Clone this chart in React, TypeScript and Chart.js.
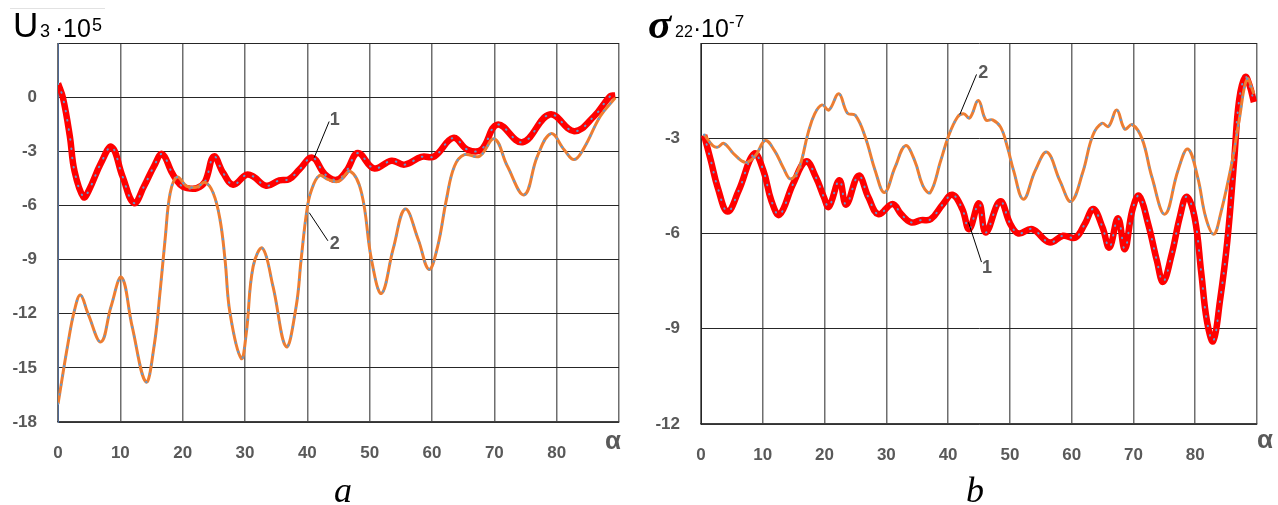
import React, { useEffect, useRef } from "react";
import { Chart, registerables } from "chart.js";

Chart.register(...registerables);

// ---------- Data (a): U3·10^5 ----------
const ALPHA_A1 = [0, 0.8, 1.9, 2.65, 4.1, 5.0, 6.9, 8.6, 10.35, 12.2, 13.8, 15.4, 16.7, 18.3, 19.6, 20.7, 22.3, 23.6, 25.0, 26.5, 28.1, 30.2, 31.3, 33.4, 35.5, 37.1, 38.7, 40.8, 42.8, 44.7, 46.3, 48.1, 50.7, 53.5, 55.6, 58.3, 60.4, 63.4, 65.7, 67.9, 70.5, 74.5, 78.9, 82.8, 86.0, 88.6, 89.4];
const U3_CURVE1 = [0.76, -0.04, -2.17, -4.1, -5.54, -5.13, -3.65, -2.76, -4.39, -5.87, -4.94, -3.83, -3.15, -4.2, -4.85, -5.04, -5.04, -4.67, -3.28, -4.2, -4.85, -4.3, -4.39, -4.91, -4.61, -4.54, -4.02, -3.35, -4.26, -4.58, -4.07, -3.1, -3.95, -3.52, -3.74, -3.31, -3.28, -2.26, -2.91, -2.91, -1.52, -2.5, -0.96, -1.89, -1.06, 0.06, 0.09];

const ALPHA_A2 = [0, 1.6, 2.65, 3.6, 4.8, 6.9, 8.5, 10.2, 11.9, 14.1, 15.4, 16.4, 17.2, 18.0, 19.1, 20.7, 22.3, 23.6, 24.9, 26.0, 26.8, 27.6, 29.4, 30.2, 31.3, 32.8, 34.5, 36.6, 38.2, 39.0, 39.9, 40.6, 41.9, 43.4, 45.0, 46.9, 48.7, 50.3, 51.9, 53.8, 55.7, 57.8, 59.5, 60.9, 62.3, 63.6, 65.2, 67.6, 70.0, 72.1, 74.8, 76.9, 79.1, 81.2, 82.8, 84.4, 87.0, 89.4];
const U3_CURVE2 = [-17.0, -13.65, -11.8, -10.96, -11.98, -13.56, -11.61, -9.98, -12.72, -15.78, -13.83, -10.69, -7.81, -5.31, -4.43, -4.94, -4.98, -4.72, -5.31, -6.8, -9.02, -11.98, -14.48, -13.09, -9.39, -8.37, -10.5, -13.83, -11.61, -9.02, -6.33, -5.22, -4.35, -4.57, -4.67, -4.11, -5.31, -9.02, -10.87, -8.37, -6.2, -7.9, -9.54, -8.28, -5.69, -3.83, -3.19, -3.28, -2.31, -3.83, -5.41, -3.28, -2.02, -2.91, -3.46, -2.81, -1.06, -0.04];

// ---------- Data (b): sigma22·10^-7 ----------
const ALPHA_B1 = [0.5, 1.6, 2.7, 4.3, 6.1, 8.6, 10.1, 11.4, 12.7, 14.9, 17.0, 18.6, 19.9, 20.7, 22.4, 23.5, 25.5, 27.1, 28.7, 31.0, 32.4, 34.0, 35.6, 37.2, 39.1, 40.7, 42.3, 43.4, 45.0, 46.1, 48.4, 50.1, 51.4, 53.6, 56.4, 58.6, 60.6, 62.1, 63.5, 65.0, 66.1, 67.5, 68.6, 69.8, 70.9, 72.4, 73.8, 74.8, 76.2, 77.5, 78.6, 79.9, 81.0, 81.9, 82.9, 84.0, 85.2, 86.3, 87.1, 88.1, 88.8, 89.5];
const S22_CURVE1 = [-2.9, -3.71, -4.55, -5.31, -4.65, -3.49, -4.02, -4.97, -5.41, -4.44, -3.73, -4.23, -4.86, -5.16, -4.32, -5.09, -4.18, -4.86, -5.39, -5.07, -5.39, -5.65, -5.58, -5.55, -5.09, -4.78, -5.23, -5.86, -5.05, -5.97, -4.99, -5.71, -6.0, -5.86, -6.28, -6.07, -6.13, -5.71, -5.23, -5.81, -6.44, -5.52, -6.49, -5.28, -4.81, -5.71, -6.86, -7.52, -6.65, -5.49, -4.84, -5.49, -7.28, -8.76, -9.39, -8.13, -6.23, -3.71, -1.81, -1.07, -1.34, -1.86];

const ALPHA_B2 = [0.5, 1.9, 2.7, 3.7, 5.3, 7.2, 8.8, 10.4, 11.9, 13.3, 14.5, 15.9, 17.3, 18.4, 19.6, 20.7, 22.3, 23.7, 25.0, 26.6, 28.2, 29.7, 31.4, 33.1, 34.6, 35.9, 37.1, 38.8, 40.0, 41.5, 42.5, 43.5, 44.9, 46.1, 47.2, 48.5, 49.6, 50.6, 52.2, 54.1, 56.0, 58.1, 59.9, 61.8, 63.4, 64.9, 65.96, 67.3, 68.6, 69.8, 71.4, 73.0, 75.1, 77.2, 78.8, 80.4, 81.7, 83.0, 84.1, 86.0, 87.1, 88.4, 89.5];
const S22_CURVE2 = [-2.88, -3.23, -3.28, -3.16, -3.49, -3.76, -3.55, -3.07, -3.39, -3.92, -4.28, -3.92, -2.86, -2.23, -1.95, -2.11, -1.6, -2.21, -2.28, -2.97, -4.02, -4.71, -3.92, -3.23, -3.71, -4.49, -4.71, -3.71, -2.97, -2.34, -2.23, -2.36, -1.81, -2.42, -2.42, -2.65, -3.28, -4.02, -4.92, -4.02, -3.44, -4.34, -4.99, -4.07, -2.92, -2.53, -2.63, -2.11, -2.71, -2.57, -3.02, -4.23, -5.39, -4.02, -3.34, -4.23, -5.49, -6.02, -5.39, -3.71, -2.44, -1.13, -1.6];

// axis ticks
const X_TICKS = [0, 10, 20, 30, 40, 50, 60, 70, 80, 90];
const Y_TICKS_A = [-18, -15, -12, -9, -6, -3, 0, 3];
const Y_TICKS_B = [-12, -9, -6, -3, 0];

// leader labels, in data units: [labelX, labelY, fromX, fromY, toX, toY]
const LEADERS_A = [
  { label: "1", pos: [44.4, -1.29, 43.5, -1.35, 41.1, -3.35] },
  { label: "2", pos: [44.4, -8.13, 43.3, -7.96, 40.3, -6.4] },
];
const LEADERS_B = [
  { label: "2", pos: [45.7, -0.95, 44.6, -0.99, 41.9, -2.25] },
  { label: "1", pos: [46.3, -7.1, 45.4, -6.9, 43.3, -5.65] },
];

const zip = (xs: number[], ys: number[]) => xs.map((x, i) => ({ x, y: ys[i] }));

const TICK_COLOR = "#595959";
const TICK_FONT = { family: "'Liberation Sans', Arial, sans-serif", size: 17, weight: "bold" as const };

function makeDatasets(s1: any[], s2: any[]) {
  const common = { pointRadius: 0, fill: false, tension: 0.4, borderJoinStyle: "round" as const };
  return [
    { ...common, data: s2, borderColor: "#5B9BD5", borderWidth: 2, borderDash: [0.5, 9], borderCapStyle: "round" as const, order: 0 },
    { ...common, data: s2, borderColor: "#ED7D31", borderWidth: 3, order: 1 },
    { ...common, data: s1, borderColor: "#5B9BD5", borderWidth: 2, borderDash: [0.5, 9], borderCapStyle: "round" as const, order: 2 },
    { ...common, data: s1, borderColor: "#FF0000", borderWidth: 6.5, order: 3 },
  ];
}

function leaderPlugin(items: { label: string; pos: number[] }[]) {
  return {
    id: "leaders",
    afterDatasetsDraw(chart: any) {
      const { ctx, scales } = chart;
      const sx = scales.x;
      const sy = scales.y;
      ctx.save();
      items.forEach((it) => {
        const [lx, ly, fx, fy, tx, ty] = it.pos;
        ctx.strokeStyle = "#000";
        ctx.lineWidth = 1;
        ctx.beginPath();
        ctx.moveTo(sx.getPixelForValue(fx), sy.getPixelForValue(fy));
        ctx.lineTo(sx.getPixelForValue(tx), sy.getPixelForValue(ty));
        ctx.stroke();
        ctx.font = "bold 18px 'Liberation Sans', Arial, sans-serif";
        ctx.fillStyle = TICK_COLOR;
        ctx.textAlign = "center";
        ctx.textBaseline = "middle";
        ctx.fillText(it.label, sx.getPixelForValue(lx), sy.getPixelForValue(ly));
      });
      ctx.restore();
    },
  };
}

function makeConfig(
  s1: any[], s2: any[], yTicks: number[], yAxisWidth: number, xAxisHeight: number,
  padRight: number, leftBorderColor: string, leaders: any[]
): any {
  const yMin = Math.min(...yTicks);
  const yMax = Math.max(...yTicks);
  return {
    type: "line",
    data: { datasets: makeDatasets(s1, s2) },
    plugins: [leaderPlugin(leaders)],
    options: {
      animation: false,
      responsive: false,
      devicePixelRatio: 1,
      events: [],
      layout: { padding: { top: 43, right: padRight, left: 0, bottom: 0 } },
      plugins: { legend: { display: false }, tooltip: { enabled: false }, title: { display: false } },
      scales: {
        x: {
          type: "linear",
          min: X_TICKS[0],
          max: X_TICKS[X_TICKS.length - 1],
          afterFit: (s: any) => { s.height = xAxisHeight; },
          afterBuildTicks: (s: any) => { s.ticks = X_TICKS.map((v) => ({ value: v })); },
          ticks: {
            autoSkip: false, maxRotation: 0, padding: 21, color: TICK_COLOR, font: TICK_FONT,
            callback: (v: number) => (v === X_TICKS[X_TICKS.length - 1] ? "" : String(v)),
          },
          grid: { color: "#6e6e6e", lineWidth: 1.5, drawTicks: false },
          border: { color: "#404040", width: 1.5 },
        },
        y: {
          type: "linear",
          min: yMin,
          max: yMax,
          afterFit: (s: any) => { s.width = yAxisWidth; },
          afterBuildTicks: (s: any) => { s.ticks = yTicks.map((v) => ({ value: v })); },
          ticks: {
            autoSkip: false, padding: 21, color: TICK_COLOR, font: TICK_FONT,
            callback: (v: number) => (v === yMax ? "" : String(v)),
          },
          grid: { color: "#262626", lineWidth: 1, drawTicks: false },
          border: { color: leftBorderColor, width: 1 },
        },
      },
    },
  };
}

const abs = (o: any): React.CSSProperties => ({ position: "absolute", whiteSpace: "nowrap", lineHeight: 1, margin: 0, ...o });
const SANS = "'Liberation Sans', Arial, sans-serif";
const SERIF = "'Liberation Serif', 'Times New Roman', serif";

export default function App() {
  const refA = useRef<HTMLCanvasElement | null>(null);
  const refB = useRef<HTMLCanvasElement | null>(null);

  useEffect(() => {
    const chartA = new Chart(
      refA.current as HTMLCanvasElement,
      makeConfig(zip(ALPHA_A1, U3_CURVE1), zip(ALPHA_A2, U3_CURVE2), Y_TICKS_A, 58, 83, 21, "#4d6690", LEADERS_A)
    );
    const chartB = new Chart(
      refB.current as HTMLCanvasElement,
      makeConfig(zip(ALPHA_B1, S22_CURVE1), zip(ALPHA_B2, S22_CURVE2), Y_TICKS_B, 61, 81, 16, "#262626", LEADERS_B)
    );
    return () => {
      chartA.destroy();
      chartB.destroy();
    };
  }, []);

  return (
    <div style={{ position: "absolute", left: 0, top: 0, width: 1278, height: 505, background: "#fff", overflow: "hidden" }}>
      <canvas ref={refA} width={640} height={505} style={{ position: "absolute", left: 0, top: 0 }} />
      <canvas ref={refB} width={638} height={505} style={{ position: "absolute", left: 640, top: 0 }} />

      {/* faint rule above left title */}
      <div style={abs({ left: 10, top: 8, width: 95, height: 1, background: "#e2e2e2" })} />

      {/* left title: U3·10^5 */}
      <span style={abs({ left: 13, top: 7, fontFamily: SANS, fontSize: 35, color: "#000" })}>U</span>
      <span style={abs({ left: 40, top: 21.5, fontFamily: SANS, fontSize: 18, color: "#000" })}>3</span>
      <span style={abs({ left: 55, top: 15.5, fontFamily: SANS, fontSize: 25, color: "#000" })}>·</span>
      <span style={abs({ left: 63, top: 15.5, fontFamily: SANS, fontSize: 25, color: "#000" })}>10</span>
      <span style={abs({ left: 92, top: 15.5, fontFamily: SANS, fontSize: 18, color: "#000" })}>5</span>

      {/* right title: sigma22·10^-7 */}
      <span style={abs({ left: 648, top: 2, fontFamily: SERIF, fontSize: 43, fontStyle: "italic", fontWeight: "bold", color: "#000" })}>σ</span>
      <span style={abs({ left: 675, top: 23.5, fontFamily: SANS, fontSize: 16, color: "#000" })}>22</span>
      <span style={abs({ left: 693, top: 15.8, fontFamily: SANS, fontSize: 25, color: "#000" })}>·</span>
      <span style={abs({ left: 701, top: 15.8, fontFamily: SANS, fontSize: 25, color: "#000" })}>10</span>
      <span style={abs({ left: 729, top: 12.6, fontFamily: SANS, fontSize: 17, color: "#000" })}>-7</span>

      {/* alpha axis labels */}
      <span style={abs({ left: 605, top: 427, fontFamily: SANS, fontSize: 26, fontWeight: "bold", color: TICK_COLOR })}>α</span>
      <span style={abs({ left: 1257, top: 426, fontFamily: SANS, fontSize: 26, fontWeight: "bold", color: TICK_COLOR })}>α</span>

      {/* captions */}
      <span style={abs({ left: 323, top: 472, width: 40, textAlign: "center", fontFamily: SERIF, fontSize: 36, fontStyle: "italic", color: "#000" })}>a</span>
      <span style={abs({ left: 955, top: 472, width: 40, textAlign: "center", fontFamily: SERIF, fontSize: 36, fontStyle: "italic", color: "#000" })}>b</span>
    </div>
  );
}
